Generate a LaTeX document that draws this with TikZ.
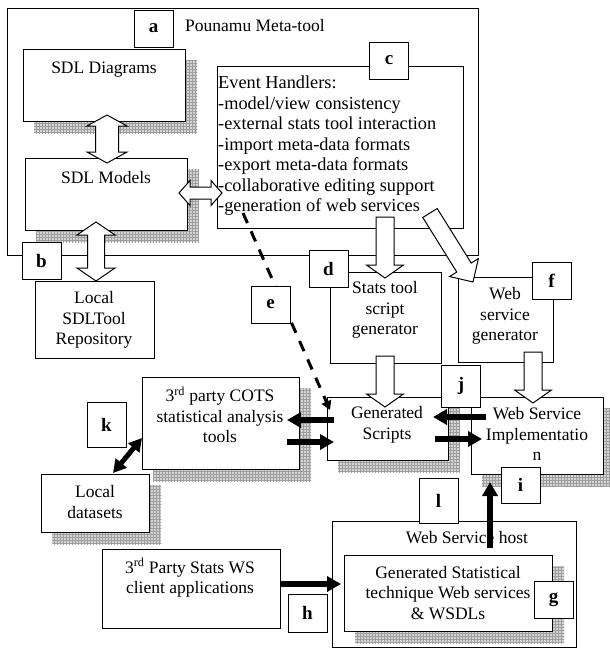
\documentclass[tikz,border=0pt]{standalone}
\usepackage{fontspec}
\setmainfont{Liberation Serif}
\usetikzlibrary{arrows.meta,patterns,calc,backgrounds}
\tikzset{
 box/.style={draw, line width=1pt, fill=white, inner sep=0pt, anchor=north west},
 openbox/.style={draw, line width=1pt, inner sep=0pt, anchor=north west},
 lbl/.style={draw, line width=1pt, fill=white, inner sep=0pt, minimum width=39pt, minimum height=37pt, font=\fontsize{19}{19}\selectfont\bfseries},
 txt/.style={inner sep=0pt, align=center, font=\fontsize{17.5}{20.6}\selectfont},
 shadowfill/.style={preaction={fill=black!17}, pattern=grid, pattern color=black!38},
 blk/.style={draw, line width=1pt, fill=white, line join=miter},
 heavy/.style={line width=5.5pt, -{Triangle[length=14pt,width=15pt]}},
 heavydbl/.style={line width=5pt, {Triangle[length=13pt,width=14pt]}-{Triangle[length=13pt,width=14pt]}},
 dashedarr/.style={line width=3pt, dash pattern=on 11pt off 9pt, -{Triangle[length=9pt,width=10pt]}},
}
% single block arrow: from, to, shaft half, head half, head length
\newcommand\blockarr[5]{%
  \draw[blk] let \p1=(#1), \p2=(#2), \n1={atan2(\y2-\y1,\x2-\x1)}, \n2={veclen(\x2-\x1,\y2-\y1)} in
    [shift={(\p1)}, rotate=\n1]
    (0,#3) -- ({\n2-#5},#3) -- ({\n2-#5},#4) -- ({\n2},0) -- ({\n2-#5},-#4) -- ({\n2-#5},-#3) -- (0,-#3) -- cycle;}
% double block arrow
\newcommand\dblockarr[5]{%
  \draw[blk] let \p1=(#1), \p2=(#2), \n1={atan2(\y2-\y1,\x2-\x1)}, \n2={veclen(\x2-\x1,\y2-\y1)} in
    [shift={(\p1)}, rotate=\n1]
    (0,0) -- (#5,#4) -- (#5,#3) -- ({\n2-#5},#3) -- ({\n2-#5},#4) -- ({\n2},0) -- ({\n2-#5},-#4) -- ({\n2-#5},-#3) -- (#5,-#3) -- (#5,-#4) -- cycle;}
\newcommand\shadowof[1]{\path[shadowfill] ($(#1.north west)+(11,11)$) rectangle ($(#1.south east)+(11,11)$);}
\begin{document}
\begin{tikzpicture}[x=1pt,y=-1pt]
\useasboundingbox (0,0) rectangle (610,648);
% containers
\node[openbox, minimum width=471pt, minimum height=247pt] (outer) at (7,8) {};
\node[openbox, minimum width=244pt, minimum height=126pt] (host) at (332,521) {};
% boxes
\node[box, minimum width=162pt, minimum height=72pt] (diag) at (23,49) {};
\node[box, minimum width=162pt, minimum height=72pt] (models) at (25,158) {};
\node[box, minimum width=246pt, minimum height=162pt] (events) at (217,66) {};
\node[box, minimum width=119pt, minimum height=77pt] (repo) at (35,281) {};
\node[box, minimum width=111pt, minimum height=91pt] (stats) at (330,272) {};
\node[box, minimum width=95pt, minimum height=85pt] (wsgen) at (458,277) {};
\node[box, minimum width=121pt, minimum height=63pt] (scripts) at (327,397) {};
\node[box, minimum width=132pt, minimum height=77pt] (wsi) at (471,397) {};
\node[box, minimum width=157pt, minimum height=92pt] (cots) at (142,377) {};
\node[box, minimum width=108pt, minimum height=58pt] (datasets) at (41,474) {};
\node[box, minimum width=178pt, minimum height=79pt] (client) at (102,549) {};
\node[box, minimum width=208pt, minimum height=76pt] (genstat) at (344,555) {};
% shadows
\begin{scope}[on background layer]
\shadowof{diag}
\shadowof{models}
\shadowof{scripts}
\shadowof{wsi}
\shadowof{cots}
\shadowof{datasets}
\shadowof{genstat}
\end{scope}
% texts
\node[txt, anchor=west] (t-outer) at (185,26) {Pounamu Meta-tool};
\node[txt] (t-diag) at (104,70) {SDL Diagrams};
\node[txt] (t-models) at (106,178) {SDL Models};
\node[txt, anchor=north west, align=left, font=\fontsize{18.3}{20.5}\selectfont] (t-events) at (218,76) {Event Handlers:\\-model/view consistency\\-external stats tool interaction\\-import meta-data formats\\-export meta-data formats\\-collaborative editing support\\-generation of web services};
\node[txt] (t-repo) at (94,320) {Local\\SDLTool\\Repository};
\node[txt] (t-stats) at (385,310) {Stats tool\\script\\generator};
\node[txt] (t-wsgen) at (505,316) {Web\\service\\generator};
\node[txt] (t-scripts) at (387,425) {Generated\\Scripts};
\node[txt] (t-wsi) at (537,434) {Web Service\\Implementatio\\n};
\node[txt] (t-cots) at (220,415) {3\textsuperscript{rd} party COTS\\statistical analysis\\tools};
\node[txt] (t-datasets) at (95,502) {Local\\datasets};
\node[txt] (t-client) at (190,578) {3\textsuperscript{rd} Party Stats WS\\client applications};
\node[txt] (t-host) at (467,538) {Web Service host};
\node[txt] (t-genstat) at (448,593) {Generated Statistical\\technique Web services\\\& WSDLs};
% connector end points
\coordinate (dm1) at (107,115); \coordinate (dm2) at (107,163);
\coordinate (me1) at (179,193); \coordinate (me2) at (222,193);
\coordinate (mr1) at (96,222);  \coordinate (mr2) at (96,281);
\coordinate (es1) at (385,217); \coordinate (es2) at (385,278);
\coordinate (ew1) at (430,213); \coordinate (ew2) at (473,282);
\coordinate (ss1) at (385,356); \coordinate (ss2) at (385,407);
\coordinate (wi1) at (533,352); \coordinate (wi2) at (533,403);
\coordinate (wsiL1) at (486,417); \coordinate (scrR1) at (433,417);
\coordinate (scrR2) at (435,439); \coordinate (wsiL2) at (482,439);
\coordinate (scrL1) at (334,420); \coordinate (cotsR1) at (287,420);
\coordinate (cotsR2) at (287,442); \coordinate (scrL2) at (334,442);
\coordinate (cotsW) at (142,438); \coordinate (dsN) at (113,473);
\coordinate (clE) at (280,584); \coordinate (gsW) at (341,584);
\coordinate (hostT) at (490,548); \coordinate (wsiB) at (490,482);
\coordinate (evB) at (243,213); \coordinate (scrNW) at (330,410);
% dashed connector
\draw[dashedarr] (evB) -- (scrNW);
% block arrows
\dblockarr{dm1}{dm2}{11.5}{20}{11}
\dblockarr{me1}{me2}{6}{12.5}{11}
\dblockarr{mr1}{mr2}{8.5}{19}{13}
\blockarr{es1}{es2}{9}{18.5}{13}
\blockarr{ew1}{ew2}{8.5}{17}{17}
\blockarr{ss1}{ss2}{9}{18.5}{13}
\blockarr{wi1}{wi2}{9}{18.5}{13}
% heavy arrows
\draw[heavy] (wsiL1) -- (scrR1);
\draw[heavy] (scrR2) -- (wsiL2);
\draw[heavy] (scrL1) -- (cotsR1);
\draw[heavy] (cotsR2) -- (scrL2);
\draw[heavydbl] (cotsW) -- (dsN);
\draw[heavy] (clE) -- (gsW);
\draw[heavy] (hostT) -- (wsiB);
% labels
\node[lbl] (la) at (153.5,28.5) {a};
\node[lbl] (lb) at (41.5,260.5) {b};
\node[lbl] (lc) at (389,60.5) {c};
\node[lbl] (ld) at (328.5,268.5) {d};
\node[lbl] (le) at (270.5,304.5) {e};
\node[lbl] (lf) at (551.5,280.5) {f};
\node[lbl] (lg) at (553.5,599.5) {g};
\node[lbl, minimum height=38pt] (lh) at (307.5,613) {h};
\node[lbl, minimum height=36pt] (li) at (520.5,485) {i};
\node[lbl, minimum height=42pt] (lj) at (461,386) {j};
\node[lbl, minimum height=45pt] (lk) at (106.5,424.5) {k};
\node[lbl, minimum height=45pt] (ll) at (438.5,500.5) {l};
\end{tikzpicture}
\end{document}
